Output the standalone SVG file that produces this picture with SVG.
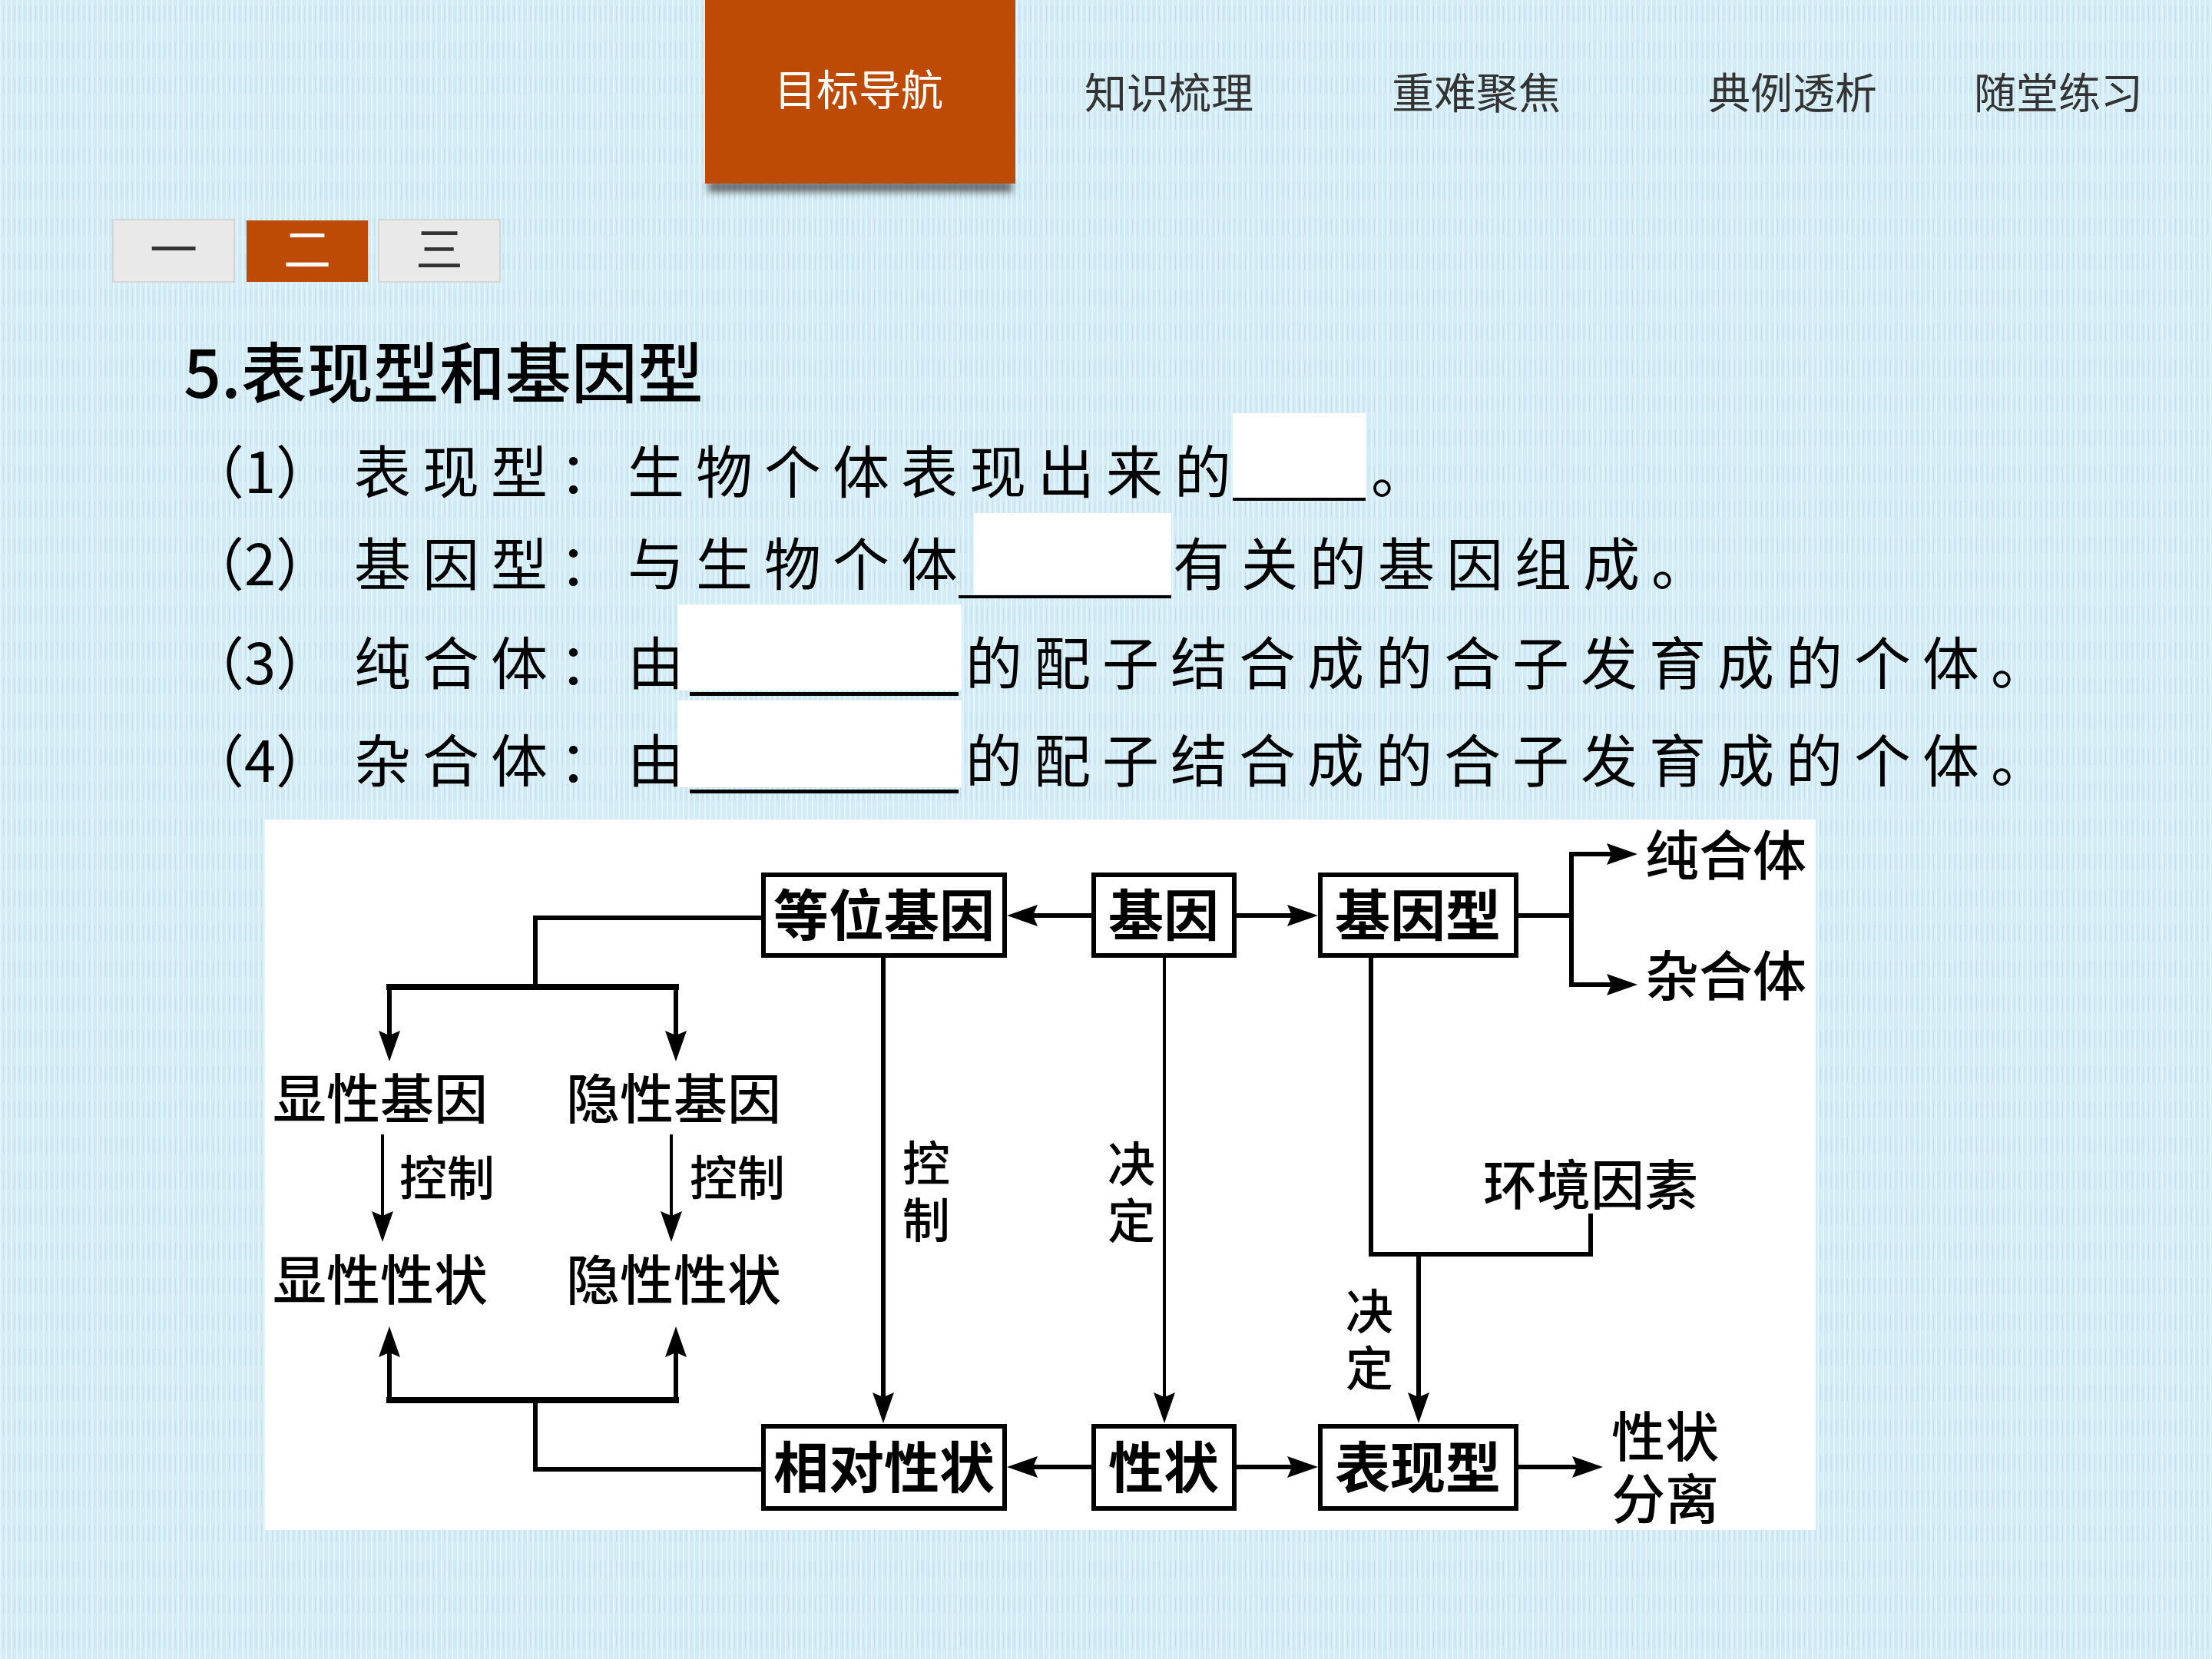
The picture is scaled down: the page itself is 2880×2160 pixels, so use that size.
<svg xmlns="http://www.w3.org/2000/svg" xmlns:xlink="http://www.w3.org/1999/xlink" width="2880" height="2160" viewBox="0 0 2880 2160">
<defs>
  <pattern id="tex" width="7" height="46" patternUnits="userSpaceOnUse">
    <rect width="7" height="46" fill="#D2EBF4"/>
    <rect x="0" y="0" width="2" height="46" fill="#E2F3F9"/>
    <rect x="4" y="8" width="1" height="22" fill="#C3E1EC"/>
  </pattern>
  <filter id="blur" x="-10%" y="-100%" width="120%" height="300%">
    <feGaussianBlur stdDeviation="5"/>
  </filter>
  <path id="ah" d="M0,0 L-40,-14 L-34,0 L-40,14 Z" fill="#000"/>
  <style>
    .nav{font-family:"Noto Sans CJK SC","Noto Sans",sans-serif;font-size:55px;fill:#333;text-anchor:middle}
    .tabt{font-family:"Noto Sans CJK SC","Noto Sans",sans-serif;font-size:62px;text-anchor:middle}
    .title{font-family:"Noto Sans CJK SC","Noto Sans",sans-serif;font-size:86px;font-weight:500;fill:#000}
    .body{font-family:"Noto Sans CJK SC","Noto Sans",sans-serif;font-size:74px;fill:#000}
    .sp{letter-spacing:15px}
    .blank{fill:#fff}
    .ul{fill:#000}
    .box{fill:#fff;stroke:#000;stroke-width:6}
    .bl{font-family:"Noto Sans CJK SC",sans-serif;font-size:72px;font-weight:700;fill:#000;text-anchor:middle}
    .lb{font-family:"Noto Sans CJK SC",sans-serif;font-size:70px;font-weight:500;fill:#000;text-anchor:middle}
    .sm{font-family:"Noto Sans CJK SC",sans-serif;font-size:62px;font-weight:500;fill:#000;text-anchor:middle}
    .vt{font-family:"Noto Sans CJK SC",sans-serif;font-size:62px;font-weight:500;fill:#000;writing-mode:vertical-rl;letter-spacing:12px}
    .ln{stroke:#000;fill:none;stroke-linecap:butt;stroke-linejoin:miter}
  </style>
</defs>

<!-- background -->
<rect x="0" y="0" width="2880" height="2160" fill="url(#tex)"/>

<!-- navigation -->
<g id="nav">
  <rect x="922" y="236" width="396" height="14" fill="#333" opacity="0.7" filter="url(#blur)"/>
  <rect x="918" y="0" width="404" height="239" fill="#BD4A05"/>
  <text class="nav" x="1118" y="137" style="fill:#fff">目标导航</text>
  <text class="nav" x="1522" y="141">知识梳理</text>
  <text class="nav" x="1922" y="141">重难聚焦</text>
  <text class="nav" x="2334" y="141">典例透析</text>
  <text class="nav" x="2680" y="141">随堂练习</text>
</g>

<g id="tabs">
  <rect x="147" y="286" width="158" height="81" fill="#E9E9E9" stroke="#D6D6D6" stroke-width="2"/>
  <rect x="321" y="287" width="158" height="80" fill="#BD4A05"/>
  <rect x="493" y="286" width="158" height="81" fill="#E9E9E9" stroke="#D6D6D6" stroke-width="2"/>
  <text class="tabt" x="226" y="348" fill="#333">一</text>
  <text class="tabt" x="400" y="348" fill="#fff">二</text>
  <text class="tabt" x="572" y="348" fill="#333">三</text>
</g>

<!-- title and statements -->
<g id="statements">
  <text class="title" x="239" y="518">5.表现型和基因型</text>

  <text class="body" x="244" y="642">（1）</text>
  <text class="body sp" x="461" y="642">表现型：生物个体表现出来的</text>
  <rect class="blank" x="1605" y="538" width="173" height="110"/>
  <rect class="ul" x="1605" y="648" width="173" height="4"/>
  <text class="body" x="1785" y="642">。</text>

  <text class="body" x="244" y="762">（2）</text>
  <text class="body sp" x="461" y="762">基因型：与生物个体</text>
  <rect class="blank" x="1268" y="668" width="257" height="106"/>
  <rect class="ul" x="1248" y="775" width="277" height="4"/>
  <text class="body sp" x="1527" y="762">有关的基因组成。</text>

  <text class="body" x="244" y="891">（3）</text>
  <text class="body sp" x="461" y="891">纯合体：由</text>
  <rect class="blank" x="882" y="787" width="370" height="112"/>
  <rect class="ul" x="898" y="901" width="350" height="5"/>
  <text class="body sp" x="1257" y="891">的配子结合成的合子发育成的个体。</text>

  <text class="body" x="244" y="1018">（4）</text>
  <text class="body sp" x="461" y="1018">杂合体：由</text>
  <rect class="blank" x="882" y="912" width="370" height="113"/>
  <rect class="ul" x="898" y="1028" width="350" height="5"/>
  <text class="body sp" x="1257" y="1018">的配子结合成的合子发育成的个体。</text>
</g>

<!-- diagram panel -->
<rect x="345" y="1067" width="2019" height="925" fill="#fff"/>

<!-- connectors -->
<g id="connectors">
  <!-- top row -->
  <line class="ln" x1="1421" y1="1192" x2="1345" y2="1192" stroke-width="6"/>
  <use xlink:href="#ah" transform="translate(1311,1192) rotate(180)"/>
  <line class="ln" x1="1610" y1="1192" x2="1682" y2="1192" stroke-width="6"/>
  <use xlink:href="#ah" transform="translate(1716,1192)"/>
  <polyline class="ln" points="1977,1192 2046,1192" stroke-width="6"/>
  <line class="ln" x1="2046" y1="1109" x2="2046" y2="1285" stroke-width="6"/>
  <line class="ln" x1="2043" y1="1112" x2="2098" y2="1112" stroke-width="6"/>
  <use xlink:href="#ah" transform="translate(2132,1112)"/>
  <line class="ln" x1="2043" y1="1282" x2="2098" y2="1282" stroke-width="6"/>
  <use xlink:href="#ah" transform="translate(2132,1282)"/>

  <!-- left branch top -->
  <polyline class="ln" points="991,1195 697,1195 697,1285" stroke-width="6"/>
  <line class="ln" x1="503" y1="1285" x2="884" y2="1285" stroke-width="8"/>
  <line class="ln" x1="507" y1="1285" x2="507" y2="1348" stroke-width="6"/>
  <use xlink:href="#ah" transform="translate(507,1382) rotate(90)"/>
  <line class="ln" x1="880" y1="1285" x2="880" y2="1348" stroke-width="6"/>
  <use xlink:href="#ah" transform="translate(880,1382) rotate(90)"/>

  <!-- control arrows -->
  <line class="ln" x1="498" y1="1477" x2="498" y2="1585" stroke-width="4"/>
  <use xlink:href="#ah" transform="translate(498,1617) rotate(90)"/>
  <line class="ln" x1="874" y1="1477" x2="874" y2="1585" stroke-width="4"/>
  <use xlink:href="#ah" transform="translate(874,1617) rotate(90)"/>

  <!-- left branch bottom -->
  <line class="ln" x1="507" y1="1823" x2="507" y2="1760" stroke-width="6"/>
  <use xlink:href="#ah" transform="translate(507,1727) rotate(-90)"/>
  <line class="ln" x1="880" y1="1823" x2="880" y2="1760" stroke-width="6"/>
  <use xlink:href="#ah" transform="translate(880,1727) rotate(-90)"/>
  <line class="ln" x1="503" y1="1823" x2="884" y2="1823" stroke-width="8"/>
  <polyline class="ln" points="697,1823 697,1913 991,1913" stroke-width="6"/>

  <!-- verticals -->
  <line class="ln" x1="1150" y1="1247" x2="1150" y2="1820" stroke-width="6"/>
  <use xlink:href="#ah" transform="translate(1150,1853) rotate(90)"/>
  <line class="ln" x1="1516" y1="1247" x2="1516" y2="1820" stroke-width="4"/>
  <use xlink:href="#ah" transform="translate(1516,1853) rotate(90)"/>
  <polyline class="ln" points="1785,1247 1785,1633 2071,1633 2071,1580" stroke-width="6"/>
  <line class="ln" x1="1847" y1="1633" x2="1847" y2="1820" stroke-width="6"/>
  <use xlink:href="#ah" transform="translate(1847,1853) rotate(90)"/>

  <!-- bottom row -->
  <line class="ln" x1="1421" y1="1910" x2="1345" y2="1910" stroke-width="6"/>
  <use xlink:href="#ah" transform="translate(1311,1910) rotate(180)"/>
  <line class="ln" x1="1610" y1="1910" x2="1682" y2="1910" stroke-width="6"/>
  <use xlink:href="#ah" transform="translate(1716,1910)"/>
  <line class="ln" x1="1977" y1="1910" x2="2053" y2="1910" stroke-width="6"/>
  <use xlink:href="#ah" transform="translate(2087,1910)"/>
</g>

<!-- nodes -->
<g id="n-allele"><rect class="box" x="994" y="1139" width="314" height="105"/><text class="bl" x="1151" y="1218">等位基因</text></g>
<g id="n-gene"><rect class="box" x="1424" y="1139" width="183" height="105"/><text class="bl" x="1515" y="1218">基因</text></g>
<g id="n-genotype"><rect class="box" x="1719" y="1139" width="255" height="105"/><text class="bl" x="1846" y="1218">基因型</text></g>
<g id="n-relative"><rect class="box" x="994" y="1857" width="314" height="107"/><text class="bl" x="1151" y="1937">相对性状</text></g>
<g id="n-trait"><rect class="box" x="1424" y="1857" width="183" height="107"/><text class="bl" x="1515" y="1937">性状</text></g>
<g id="n-phenotype"><rect class="box" x="1719" y="1857" width="255" height="107"/><text class="bl" x="1846" y="1937">表现型</text></g>

<g id="n-homo"><text class="lb" x="2247" y="1140">纯合体</text></g>
<g id="n-hetero"><text class="lb" x="2247" y="1297">杂合体</text></g>
<g id="n-sep"><text class="lb" x="2168" y="1897">性状<tspan x="2168" dy="81">分离</tspan></text></g>
<g id="n-domgene"><text class="lb" x="495" y="1457">显性基因</text></g>
<g id="n-recgene"><text class="lb" x="877" y="1457">隐性基因</text></g>
<g id="n-domtrait"><text class="lb" x="495" y="1693">显性性状</text></g>
<g id="n-rectrait"><text class="lb" x="877" y="1693">隐性性状</text></g>
<g id="n-env"><text class="lb" x="2071" y="1569">环境因素</text></g>

<g id="labels">
  <text class="sm" x="582" y="1557">控制</text>
  <text class="sm" x="960" y="1557">控制</text>
  <text class="vt" x="1206" y="1483">控制</text>
  <text class="vt" x="1473" y="1484">决定</text>
  <text class="vt" x="1783" y="1676">决定</text>
</g>
</svg>
